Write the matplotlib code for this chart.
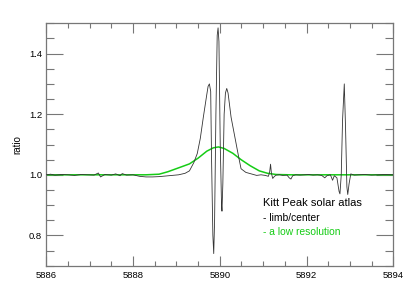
import matplotlib
matplotlib.use("Agg")
import matplotlib.pyplot as plt
from matplotlib.ticker import MultipleLocator, FormatStrFormatter

plt.rcParams['font.family'] = ['Liberation Sans', 'DejaVu Sans']

# High-resolution limb/center ratio (black)
wl_hi = [5886.00, 5886.10, 5886.20, 5886.35, 5886.50, 5886.65, 5886.80, 5886.95,
         5887.10, 5887.20, 5887.25, 5887.35, 5887.50, 5887.60, 5887.70, 5887.75,
         5887.85, 5888.00, 5888.15, 5888.30, 5888.45, 5888.60, 5888.75, 5888.90,
         5889.05, 5889.20, 5889.30, 5889.40, 5889.48, 5889.55, 5889.62, 5889.70,
         5889.73, 5889.76, 5889.79, 5889.81, 5889.84, 5889.86, 5889.88, 5889.91,
         5889.94, 5889.96, 5889.98, 5890.01, 5890.04, 5890.05, 5890.07, 5890.10,
         5890.13, 5890.16, 5890.19, 5890.26, 5890.44, 5890.49, 5890.60, 5890.75,
         5890.85, 5890.95, 5891.05, 5891.12, 5891.15, 5891.17, 5891.19, 5891.22,
         5891.26, 5891.30, 5891.38, 5891.45, 5891.55, 5891.60, 5891.64, 5891.68,
         5891.75, 5891.85, 5891.95, 5892.05, 5892.15, 5892.25, 5892.35, 5892.42,
         5892.47, 5892.55, 5892.60, 5892.64, 5892.70, 5892.75, 5892.77, 5892.80,
         5892.83, 5892.87, 5892.90, 5892.93, 5892.95, 5892.98, 5893.02, 5893.10,
         5893.20, 5893.35, 5893.50, 5893.65, 5893.80, 5894.00]
ratio_hi = [1.000, 1.002, 0.999, 1.001, 1.000, 0.998, 1.001, 1.000,
            0.999, 1.006, 0.993, 1.001, 0.999, 1.003, 0.997, 1.004,
            0.999, 1.000, 0.995, 0.993, 0.993, 0.994, 0.996, 0.998,
            1.000, 1.005, 1.013, 1.040, 1.070, 1.120, 1.190, 1.265,
            1.292, 1.300, 1.275, 1.050, 0.800, 0.740, 0.850, 1.200,
            1.460, 1.485, 1.440, 1.100, 0.900, 0.880, 0.970, 1.200,
            1.270, 1.285, 1.270, 1.190, 1.055, 1.020, 1.008, 1.002,
            0.998, 1.000, 0.998, 0.995, 1.010, 1.035, 1.005, 0.988,
            0.995, 0.999, 1.000, 0.998, 0.999, 0.990, 0.986, 0.997,
            1.000, 0.999, 1.000, 1.001, 0.999, 1.000, 0.998, 0.990,
            0.997, 1.000, 0.982, 0.997, 0.990, 0.945, 0.937, 1.000,
            1.180, 1.300, 1.150, 0.960, 0.935, 0.970, 1.003, 0.999,
            1.000, 1.001, 0.999, 1.000, 1.001, 1.000]

# Low-resolution version (green)
wl_lo = [5886.0, 5887.0, 5888.0, 5888.3, 5888.6, 5888.8, 5889.07, 5889.3,
         5889.5, 5889.7, 5889.85, 5889.97, 5890.1, 5890.3, 5890.49, 5890.7,
         5890.91, 5891.1, 5891.3, 5891.6, 5894.0]
ratio_lo = [1.000, 1.000, 1.000, 1.000, 1.002, 1.010, 1.024, 1.036,
            1.055, 1.078, 1.089, 1.092, 1.087, 1.071, 1.050, 1.030,
            1.013, 1.005, 1.001, 1.000, 1.000]

xlim = (5886, 5894)
ylim = (0.7, 1.5)
title_lines = ["Kitt Peak solar atlas", "- limb/center", "- a low resolution"]

fig = plt.figure(figsize=(4.15, 2.87), dpi=100)
ax = fig.add_axes([0.1116, 0.0742, 0.8361, 0.8446])

green = '#16cc16'
ax.plot(wl_lo, ratio_lo, color=green, lw=1.1, zorder=2)
ax.plot(wl_hi, ratio_hi, color='#333333', lw=0.6, zorder=3)

ax.set_xlim(*xlim)
ax.set_ylim(*ylim)

ax.xaxis.set_major_locator(MultipleLocator(2))
ax.xaxis.set_minor_locator(MultipleLocator(0.5))
ax.yaxis.set_major_locator(MultipleLocator(0.2))
ax.yaxis.set_minor_locator(MultipleLocator(0.05))
ax.xaxis.set_major_formatter(FormatStrFormatter('%d'))
ax.yaxis.set_major_formatter(FormatStrFormatter('%.1f'))

tc = '#777777'
ax.tick_params(axis='x', which='major', direction='in', length=7.2, width=0.8,
               color=tc, top=True, labelsize=6.8, pad=4)
ax.tick_params(axis='x', which='minor', direction='in', length=3.6, width=0.8,
               color=tc, top=True)
ax.tick_params(axis='y', which='major', direction='in', length=12.2, width=0.8,
               color=tc, right=True, labelsize=6.8, pad=3)
ax.tick_params(axis='y', which='minor', direction='in', length=5.8, width=0.8,
               color=tc, right=True)
for s in ax.spines.values():
    s.set_color(tc)
    s.set_linewidth(0.9)

ax.set_ylabel('ratio', fontsize=7, labelpad=5)

fig.text(263 / 415, 1 - 203 / 287, title_lines[0], fontsize=8, color='black',
         va='center', ha='left')
fig.text(263 / 415, 1 - 218 / 287, title_lines[1], fontsize=7.4, color='black',
         va='center', ha='left')
fig.text(263 / 415, 1 - 232 / 287, title_lines[2], fontsize=7.4, color=green,
         va='center', ha='left')

fig.savefig('out.png', dpi=100)
